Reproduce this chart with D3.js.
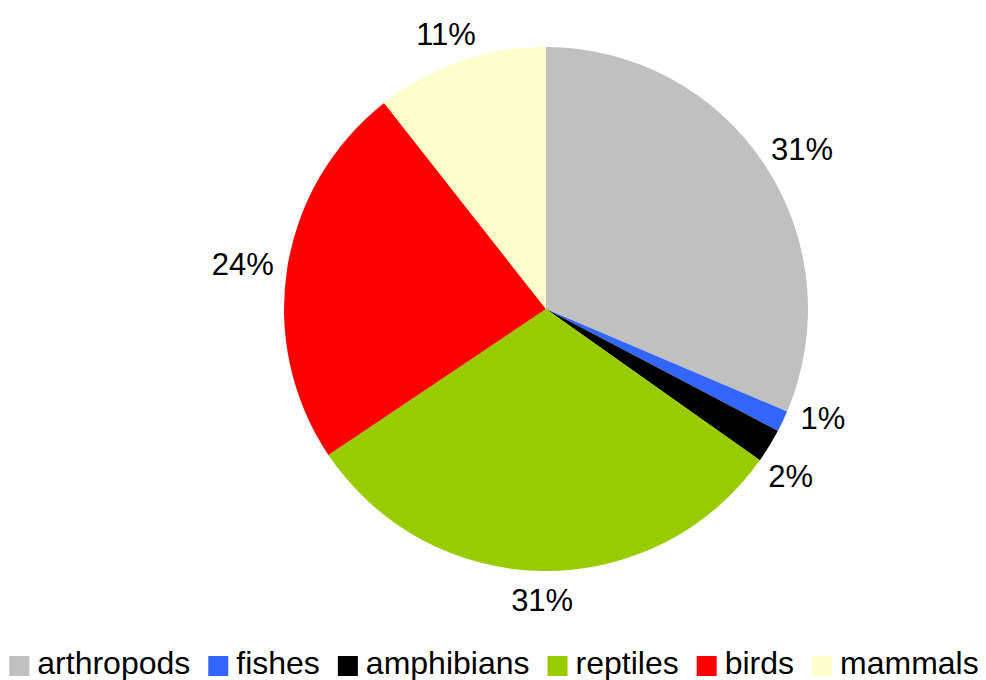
<!DOCTYPE html>
<html>
<head>
<meta charset="utf-8">
<script src="https://cdn.jsdelivr.net/npm/d3@7"></script>
<style>
  body { margin: 0; background: #fff; }
  svg { display: block; font-family: "Liberation Sans", Arial, sans-serif; }
</style>
</head>
<body>
<div id="chart"></div>
<script>
const categories = ["arthropods", "fishes", "amphibians", "reptiles", "birds", "mammals"];
const shares = [31.4, 1.3, 2.1, 30.8, 23.8, 10.6];
const colors = ["#c0c0c0", "#3366ff", "#000000", "#99cc00", "#ff0000", "#ffffcc"];

const width = 986, height = 680;
const cx = 546, cy = 309, radius = 262, labelGap = 14;
const minLabelAngle = 13 * Math.PI / 180;

const data = categories.map((c, i) => ({ name: c, value: shares[i], color: colors[i] }));
const total = d3.sum(shares);

const svg = d3.select("#chart").append("svg")
  .attr("width", width)
  .attr("height", height);

const pie = d3.pie().sort(null).value((d) => d.value);
const arcs = pie(data);
const arc = d3.arc().innerRadius(0).outerRadius(radius);

const g = svg.append("g").attr("transform", `translate(${cx},${cy})`);

g.selectAll("path")
  .data(arcs)
  .enter()
  .append("path")
  .attr("d", arc)
  .attr("fill", (d) => d.data.color);

// label angles: mid angle, spread apart when neighbours are too close
const angles = arcs.map((d) => (d.startAngle + d.endAngle) / 2);
for (let i = 1; i < angles.length; i++) {
  if (angles[i] - angles[i - 1] < minLabelAngle) {
    const mid = (angles[i] + angles[i - 1]) / 2;
    angles[i - 1] = mid - minLabelAngle / 2;
    angles[i] = mid + minLabelAngle / 2;
  }
}

const labels = g.selectAll("text.pct")
  .data(arcs)
  .enter()
  .append("text")
  .attr("class", "pct")
  .attr("text-anchor", "middle")
  .attr("dy", "0.36em")
  .style("font-size", "31px")
  .text((d) => Math.round((d.data.value / total) * 100) + "%");

labels.each(function (d, i) {
  const w = this.getComputedTextLength();
  const h = 30;
  let a = angles[i];
  const pos = (ang) => {
    const s = Math.sin(ang), c = -Math.cos(ang);
    return [s * (radius + labelGap) + s * w / 2, c * (radius + labelGap) + c * h / 2];
  };
  let p = pos(a);
  // keep labels inside the chart area by sliding along the circle
  let step = 0;
  while (p[1] + cy < 28 && step < 90) {
    a += (Math.sin(a) < 0 ? -1 : 1) * Math.PI / 180;
    p = pos(a);
    step++;
  }
  d3.select(this).attr("transform", `translate(${p[0]},${p[1]})`);
});

// legend
const legend = svg.append("g");
const items = legend.selectAll("g")
  .data(data)
  .enter()
  .append("g");

items.append("rect")
  .attr("width", 20)
  .attr("height", 20)
  .attr("y", 656)
  .attr("fill", (d) => d.color);

items.append("text")
  .attr("x", 28)
  .attr("y", 674)
  .style("font-size", "32px")
  .text((d) => d.name);

let x = 0;
items.each(function () {
  const w = d3.select(this).select("text").node().getComputedTextLength();
  d3.select(this).attr("transform", `translate(${x},0)`);
  x += 28 + w + 18;
});
const legendWidth = x - 18;
legend.attr("transform", `translate(${(width - legendWidth) / 2 + 1},0)`);
</script>
</body>
</html>
